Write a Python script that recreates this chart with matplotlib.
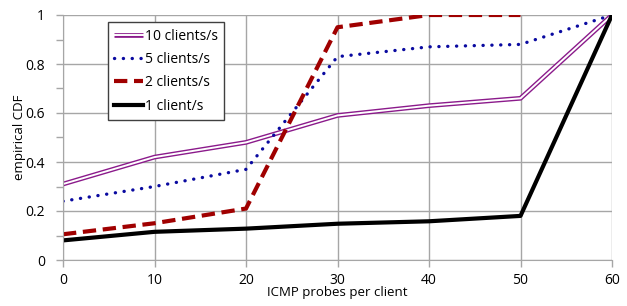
import matplotlib
matplotlib.use("Agg")
import matplotlib.pyplot as plt
import matplotlib.lines as mlines
from matplotlib.legend_handler import HandlerLine2D
from matplotlib.ticker import MultipleLocator

plt.rcParams['font.family'] = ['Open Sans', 'DejaVu Sans']

probes = [0, 10, 20, 30, 40, 50, 60]
cdf_10 = [0.31, 0.42, 0.48, 0.59, 0.63, 0.66, 1.0]
cdf_5 = [0.24, 0.30, 0.37, 0.83, 0.87, 0.88, 1.0]
probes_2 = [0, 10, 20, 30, 40, 50]
cdf_2 = [0.105, 0.15, 0.21, 0.95, 1.0, 1.0]
cdf_1 = [0.08, 0.115, 0.128, 0.148, 0.158, 0.18, 1.0]

fig = plt.figure(figsize=(6.27, 3.06), dpi=100)
ax = fig.add_axes([63 / 627, 46 / 306, 549 / 627, 245 / 306])

grid_col = '#a6a6a6'
ax.grid(True, color=grid_col, lw=1.0)
ax.set_axisbelow(True)

# double line: purple outer, white core
l10, = ax.plot(probes, cdf_10, color='#8b1a8b', lw=3.4, solid_capstyle='butt',
               label='10 clients/s')
ax.plot(probes, cdf_10, color='white', lw=1.4, solid_capstyle='butt')
l5, = ax.plot(probes, cdf_5, color='#0a0aa0', lw=2.4, ls=(0, (0.05, 2.6)),
              dash_capstyle='round', label='5 clients/s')
l2, = ax.plot(probes_2, cdf_2, color='#a00000', lw=3.0, ls=(0, (3.2, 1.6)),
              label='2 clients/s')
l1, = ax.plot(probes, cdf_1, color='black', lw=3.0, label='1 client/s')

ax.set_xlim(0, 60)
ax.set_ylim(0, 1)
ax.xaxis.set_major_locator(MultipleLocator(10))
ax.yaxis.set_minor_locator(MultipleLocator(0.1))
ax.set_yticks([0, 0.2, 0.4, 0.6, 0.8, 1.0], ['0', '0.2', '0.4', '0.6', '0.8', '1'])

for s in ['top', 'right']:
    ax.spines[s].set_visible(False)
for s in ['left', 'bottom']:
    ax.spines[s].set_color(grid_col)
ax.tick_params(axis='both', which='both', color=grid_col, length=5, width=1,
               labelsize=10, labelcolor='black')
ax.tick_params(axis='y', pad=8)
ax.tick_params(axis='x', pad=4)

ax.set_xlabel('ICMP probes per client', fontsize=9.5, labelpad=-1)
ax.set_ylabel('empirical CDF', fontsize=9.5, labelpad=-4)
ax.yaxis.set_label_coords(-0.068, 0.5)


class DoubleHandler(HandlerLine2D):
    def create_artists(self, legend, orig_handle, xdescent, ydescent,
                       width, height, fontsize, trans):
        arts = super().create_artists(legend, orig_handle, xdescent, ydescent,
                                      width, height, fontsize, trans)
        y = height / 2 - ydescent
        inner = mlines.Line2D([-xdescent, width - xdescent], [y, y],
                              color='white', lw=1.4, transform=trans)
        return list(arts) + [inner]


leg = ax.legend(handles=[l10, l5, l2, l1], loc='upper left',
                bbox_to_anchor=(45 / 549, 0.97), fontsize=10,
                frameon=True, fancybox=False, edgecolor='#404040',
                framealpha=1, handlelength=2.1, handletextpad=0.1,
                labelspacing=0.6, borderpad=0.45, borderaxespad=0,
                handler_map={l10: DoubleHandler()})
leg.get_frame().set_linewidth(1.0)

fig.savefig('out.png', dpi=100)
